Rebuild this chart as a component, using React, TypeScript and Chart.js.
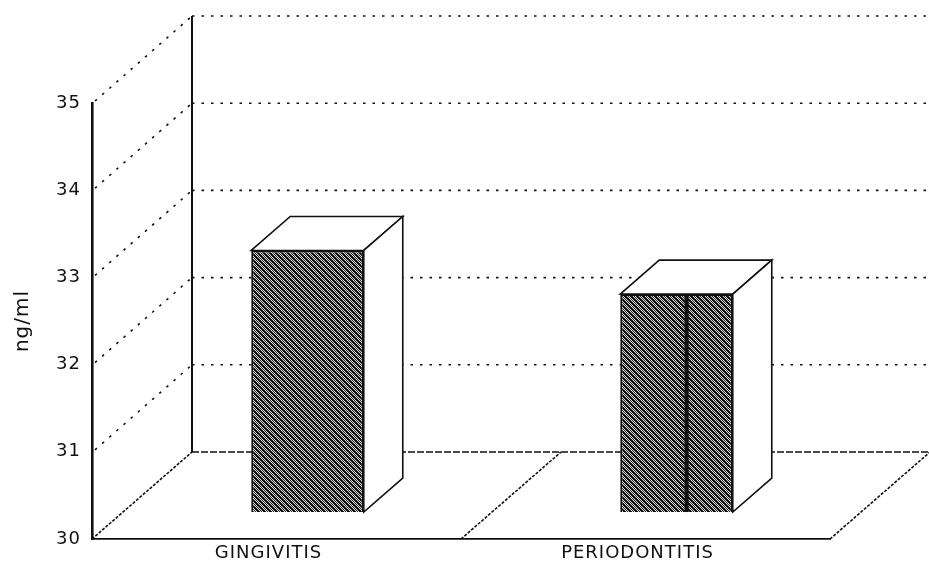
import React, { useEffect, useRef } from 'react';
import { Chart, registerables } from 'chart.js';

Chart.register(...registerables);

const categories = ['GINGIVITIS', 'PERIODONTITIS'];
const values = [33.0, 32.5];
const yMin = 30;
const yMax = 35;
const yStep = 1;
const yTitle = 'ng/ml';

// 3-D projection of the chart's depth axis (pixels)
const DEPTH_X = 100;
const DEPTH_Y = 87;
const BAR_Z0 = 0.31;
const BAR_Z1 = 0.7;

function makeHatch(): CanvasPattern | string {
  const c = document.createElement('canvas');
  c.width = 6;
  c.height = 6;
  const g = c.getContext('2d');
  if (!g) return '#555';
  const img = g.createImageData(6, 6);
  for (let j = 0; j < 6; j++) {
    for (let i = 0; i < 6; i++) {
      const diag = ((i - j) % 6 + 6) % 6;
      let dark = false;
      if (diag === 0 || diag === 1) dark = true;
      else if (diag === 3) dark = false;
      else dark = (i + j) % 2 === 0;
      const k = (j * 6 + i) * 4;
      const v = dark ? 15 : 240;
      img.data[k] = v;
      img.data[k + 1] = v;
      img.data[k + 2] = v;
      img.data[k + 3] = 255;
    }
  }
  g.putImageData(img, 0, 0);
  const p = g.createPattern(c, 'repeat');
  return p || '#555';
}

const frame3d = {
  id: 'frame3d',
  beforeDraw(chart: any) {
    const ctx = chart.ctx as any;
    if ('letterSpacing' in ctx) ctx.letterSpacing = '1px';
  },
  beforeDatasetsDraw(chart: any) {
    const { ctx, chartArea, scales } = chart;
    const { left, right, top, bottom } = chartArea;
    const y = scales.y;
    const x = scales.x;
    ctx.save();
    ctx.strokeStyle = '#111';
    ctx.lineCap = 'butt';

    // back wall grid lines and left wall diagonals (dotted)
    ctx.lineWidth = 1.6;
    ctx.setLineDash([2.5, 7]);
    for (let v = yMin + yStep; v <= yMax + 1e-9; v += yStep) {
      const py = y.getPixelForValue(v);
      ctx.beginPath();
      ctx.moveTo(left + DEPTH_X, py - DEPTH_Y);
      ctx.lineTo(right + DEPTH_X, py - DEPTH_Y);
      ctx.stroke();
      ctx.beginPath();
      ctx.moveTo(left + 3, py - 2);
      ctx.lineTo(left + DEPTH_X, py - DEPTH_Y);
      ctx.stroke();
    }

    // floor back edge
    ctx.lineWidth = 1.6;
    ctx.setLineDash([7, 2]);
    ctx.beginPath();
    ctx.moveTo(left + DEPTH_X, bottom - DEPTH_Y);
    ctx.lineTo(right + DEPTH_X, bottom - DEPTH_Y);
    ctx.stroke();

    // floor diagonals: left edge, category dividers, right edge
    ctx.setLineDash([3, 1.5]);
    const xs: number[] = [left];
    for (let i = 0; i < categories.length - 1; i++) {
      xs.push((x.getPixelForValue(i) + x.getPixelForValue(i + 1)) / 2);
    }
    xs.push(right);
    xs.forEach((px) => {
      ctx.beginPath();
      ctx.moveTo(px, bottom);
      ctx.lineTo(px + DEPTH_X, bottom - DEPTH_Y);
      ctx.stroke();
    });

    // back wall vertical edge
    ctx.setLineDash([]);
    ctx.lineWidth = 2;
    ctx.beginPath();
    ctx.moveTo(left + DEPTH_X, top - DEPTH_Y);
    ctx.lineTo(left + DEPTH_X, bottom - DEPTH_Y);
    ctx.stroke();
    ctx.restore();

    // shift bars into depth for the front faces
    ctx.save();
    ctx.translate(DEPTH_X * BAR_Z0, -DEPTH_Y * BAR_Z0);
  },
  afterDatasetsDraw(chart: any) {
    const { ctx } = chart;
    ctx.restore();
    const ox = DEPTH_X * BAR_Z0;
    const oy = DEPTH_Y * BAR_Z0;
    const dx = DEPTH_X * (BAR_Z1 - BAR_Z0);
    const dy = DEPTH_Y * (BAR_Z1 - BAR_Z0);
    const basePx = chart.scales.y.getPixelForValue(yMin);
    const meta = chart.getDatasetMeta(0);
    ctx.save();
    ctx.strokeStyle = '#111';
    ctx.fillStyle = '#fff';
    ctx.lineWidth = 1.6;
    ctx.lineJoin = 'miter';
    meta.data.forEach((el: any, i: number) => {
      const x0 = el.x - el.width / 2 + ox;
      const x1 = el.x + el.width / 2 + ox;
      const yt = el.y - oy;
      const yb = basePx - oy;
      // top face
      ctx.beginPath();
      ctx.moveTo(x0, yt);
      ctx.lineTo(x0 + dx, yt - dy);
      ctx.lineTo(x1 + dx, yt - dy);
      ctx.lineTo(x1, yt);
      ctx.closePath();
      ctx.fill();
      ctx.stroke();
      // side face
      ctx.beginPath();
      ctx.moveTo(x1, yt);
      ctx.lineTo(x1 + dx, yt - dy);
      ctx.lineTo(x1 + dx, yb - dy);
      ctx.lineTo(x1, yb);
      ctx.closePath();
      ctx.fill();
      ctx.stroke();
      // dark seam visible on the second bar of the scan
      if (i === 1) {
        ctx.save();
        ctx.fillStyle = '#111';
        const sx = x0 + el.width * 0.59;
        ctx.fillRect(sx - 2, yt, 4, yb - yt);
        ctx.restore();
      }
    });
    ctx.restore();
  },
};

export default function App() {
  const ref = useRef<HTMLCanvasElement | null>(null);
  useEffect(() => {
    const canvas = ref.current;
    if (!canvas) return;
    const hatch = makeHatch();
    const family = '"DejaVu Sans", "Liberation Sans", Arial, sans-serif';
    const font = { family, size: 18 };
    const chart = new Chart(canvas, {
      type: 'bar',
      data: {
        labels: categories,
        datasets: [
          {
            data: values,
            backgroundColor: hatch as any,
            borderColor: '#111',
            borderWidth: 2,
            borderSkipped: false,
            barPercentage: 0.61,
            categoryPercentage: 0.5,
          },
        ],
      },
      options: {
        animation: false,
        responsive: false,
        devicePixelRatio: 1,
        layout: { padding: { top: 103, right: 99, left: 0, bottom: 0 } },
        plugins: { legend: { display: false }, tooltip: { enabled: false }, title: { display: false } },
        scales: {
          x: {
            grid: { display: false, drawTicks: false },
            border: { display: true, color: '#111', width: 1.8 },
            ticks: { color: '#111', font, padding: 4, maxRotation: 0, labelOffset: -8 },
            afterFit: (s: any) => {
              s.height = 28;
            },
          },
          y: {
            min: yMin,
            max: yMax,
            grid: { display: false, drawTicks: false },
            border: { display: true, color: '#111', width: 2.6 },
            ticks: { stepSize: yStep, color: '#111', font, padding: 11 },
            title: {
              display: true,
              text: yTitle,
              color: '#111',
              font: { family, size: 20 },
              padding: { top: 11, bottom: 0 },
            },
            afterFit: (s: any) => {
              s.width = 92;
            },
          },
        },
      },
      plugins: [frame3d],
    });
    return () => chart.destroy();
  }, []);
  return (
    <canvas
      ref={ref}
      width={929}
      height={567}
      style={{ position: 'fixed', left: 0, top: 0, width: 929, height: 567, display: 'block', background: '#fff' }}
    />
  );
}
